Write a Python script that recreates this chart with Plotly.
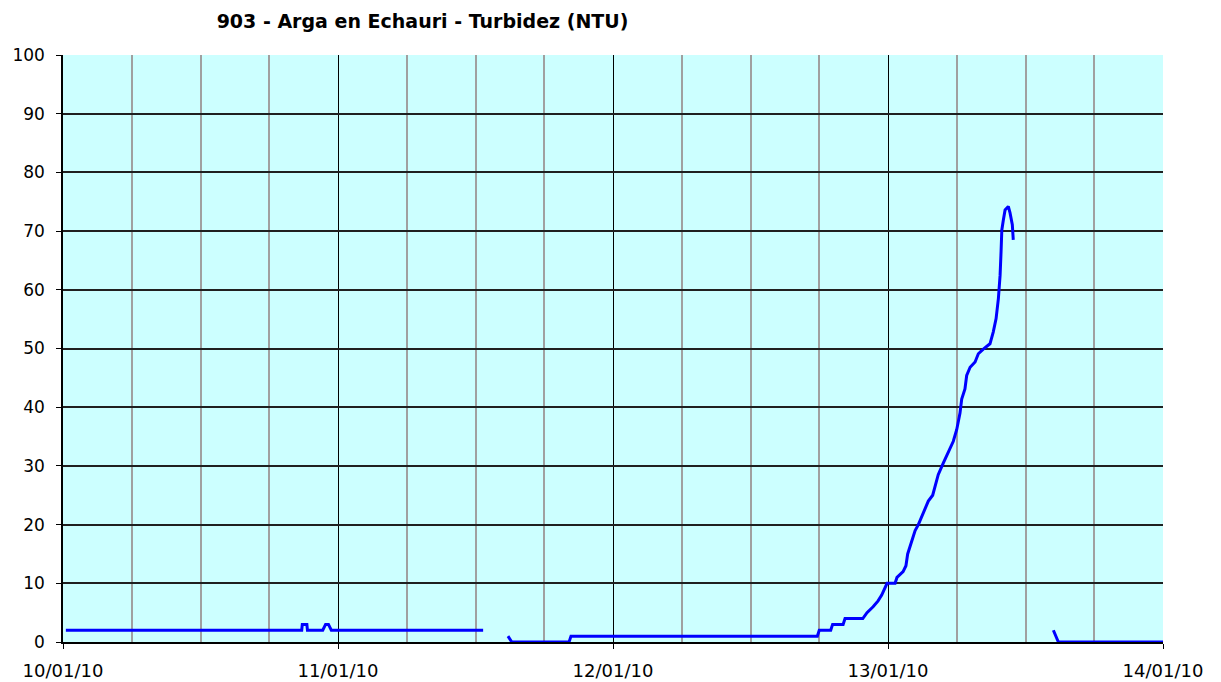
import plotly.graph_objects as go

# Turbidity readings (NTU); None marks gaps in the record
times = [
    "2010-01-10 00:15", "2010-01-10 20:50", "2010-01-10 20:53", "2010-01-10 21:17", "2010-01-10 21:20",
    "2010-01-10 22:40", "2010-01-10 22:55", "2010-01-10 23:10", "2010-01-10 23:25", "2010-01-11 12:40",
    "2010-01-11 13:40",
    "2010-01-11 14:50", "2010-01-11 15:10", "2010-01-11 20:10", "2010-01-11 20:20",
    "2010-01-12 17:50", "2010-01-12 18:00", "2010-01-12 19:00", "2010-01-12 19:10",
    "2010-01-12 20:05", "2010-01-12 20:15", "2010-01-12 21:48", "2010-01-12 22:10",
    "2010-01-12 22:42", "2010-01-12 23:08", "2010-01-12 23:27", "2010-01-12 23:39",
    "2010-01-12 23:55", "2010-01-13 00:37", "2010-01-13 00:47", "2010-01-13 01:19",
    "2010-01-13 01:34", "2010-01-13 01:43", "2010-01-13 02:04", "2010-01-13 02:22",
    "2010-01-13 02:39", "2010-01-13 03:05", "2010-01-13 03:31", "2010-01-13 03:54",
    "2010-01-13 04:06", "2010-01-13 04:23", "2010-01-13 04:50", "2010-01-13 05:16",
    "2010-01-13 05:42", "2010-01-13 06:00", "2010-01-13 06:17", "2010-01-13 06:26",
    "2010-01-13 06:43", "2010-01-13 06:52", "2010-01-13 07:10", "2010-01-13 07:36",
    "2010-01-13 07:53", "2010-01-13 08:19", "2010-01-13 08:54", "2010-01-13 09:11",
    "2010-01-13 09:26", "2010-01-13 09:38", "2010-01-13 09:47", "2010-01-13 09:52",
    "2010-01-13 09:56", "2010-01-13 10:04", "2010-01-13 10:13", "2010-01-13 10:30",
    "2010-01-13 10:39", "2010-01-13 10:51", "2010-01-13 10:56",
    "2010-01-13 12:00",
    "2010-01-13 14:26", "2010-01-13 14:52", "2010-01-14 00:00",
]
turbidity = [
    2, 2, 3, 3, 2,
    2, 3, 3, 2, 2,
    None,
    1, 0, 0, 1,
    1, 2, 2, 3,
    3, 4, 4, 5,
    6, 7, 8, 9,
    10, 10, 11, 12,
    13, 15, 17, 19,
    20, 22, 24, 25,
    26.5, 28.5, 30.5, 32.3,
    34.2, 36.2, 39, 41.4,
    43.1, 45.4, 46.8, 47.7,
    49.1, 49.9, 50.8, 52.8,
    55.1, 58.5, 62.5, 66.5,
    70.2, 71.9, 73.6, 74.2,
    73.1, 71.1, 68.5,
    None,
    2, 0, 0,
]
title_text = "903 - Arga en Echauri - Turbidez (NTU)"
x_range = ["2010-01-10 00:00", "2010-01-14 00:00"]
y_range = [0, 100]

W, H = 1213, 674  # page body has an 8px margin

fig = go.Figure()
fig.add_trace(go.Scatter(
    x=times, y=turbidity, mode="lines",
    line=dict(color="#0000FF", width=3),
    connectgaps=False, hoverinfo="x+y",
))

font_family = "DejaVu Sans, Verdana, sans-serif"

fig.update_layout(
    width=W, height=H,
    margin=dict(l=55, r=58, t=47, b=40, autoexpand=False),
    paper_bgcolor="white",
    plot_bgcolor="#CCFFFF",
    showlegend=False,
    title=dict(text="<b>" + title_text + "</b>", x=(422.5 - 8) / W, xanchor="center",
               y=1 - (21.7 - 8) / H, yanchor="middle",
               font=dict(family=font_family, size=19, color="black")),
    font=dict(family=font_family, size=17, color="black"),
)

fig.update_xaxes(
    range=x_range, type="date",
    dtick=86400000, tick0="2010-01-10",
    tickformat="%d/%m/%y",
    showgrid=True, gridcolor="black", gridwidth=1,
    minor=dict(dtick=21600000, showgrid=True, gridcolor="#A0A0A0", gridwidth=2),
    showline=True, linecolor="black", linewidth=1.5,
    ticks="outside", ticklen=5, tickcolor="black",
    ticklabelstandoff=7, automargin=False,
    zeroline=False, mirror=False,
    tickfont=dict(family=font_family, size=18),
)
fig.update_yaxes(
    range=y_range, dtick=10, tick0=0,
    showgrid=True, gridcolor="#202020", gridwidth=1.5,
    showline=True, linecolor="black", linewidth=1.5,
    ticks="outside", ticklen=5, tickcolor="black",
    ticklabelstandoff=8, automargin=False,
    zeroline=False,
    tickfont=dict(family=font_family, size=17),
)

fig.write_html("out.html")
